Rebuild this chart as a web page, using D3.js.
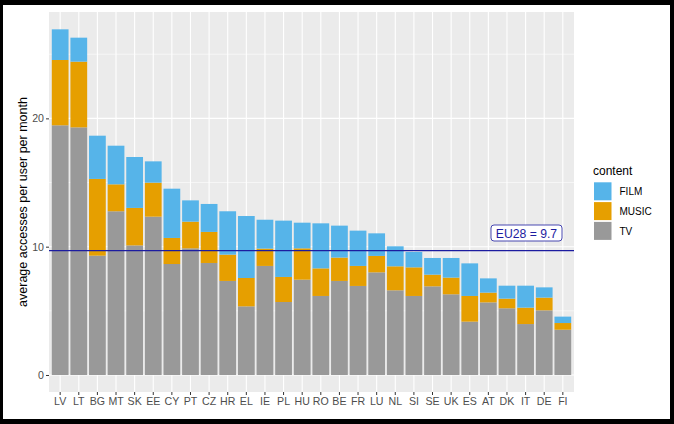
<!DOCTYPE html>
<html lang='en'>
<head>
<title>Average accesses per user per month</title>
<script type='text/javascript' src='https://cdn.jsdelivr.net/npm/d3@7/dist/d3.min.js'></script>
<style>
	body { margin: 0; background: #000; }
	text { font-family: 'Liberation Sans', Arial, sans-serif; }
</style>
</head>
<body>
<svg id='svg' width='674' height='424'></svg>
<script type='text/javascript'>
var countries = ['LV','LT','BG','MT','SK','EE','CY','PT','CZ','HR','EL','IE','PL','HU','RO','BE','FR','LU','NL','SI','SE','UK','ES','AT','DK','IT','DE','FI'];
var tv    = [19.46,19.30,9.30,12.76,10.10,12.34,8.65,9.87,8.73,7.33,5.35,8.50,5.69,7.43,6.16,7.33,6.94,8.00,6.60,6.16,6.91,6.29,4.16,5.66,5.20,3.97,5.04,3.53];
var music = [5.09,5.12,5.98,2.10,2.92,2.65,2.03,2.08,2.42,2.05,2.21,1.35,1.95,2.44,2.15,1.82,1.56,1.28,1.87,2.23,0.91,1.30,2.00,0.76,0.75,1.28,0.99,0.52];
var film  = [2.39,1.87,3.37,3.01,3.97,1.66,3.84,1.66,2.18,3.38,4.83,2.25,4.39,2.00,3.51,2.49,2.75,1.76,1.56,1.20,1.30,1.53,2.54,1.11,1.01,1.71,0.80,0.50];
var contentKeys = ['TV','MUSIC','FILM'];
var legendKeys = ['FILM','MUSIC','TV'];
var eu28 = 9.7;
var yTicks = [0, 10, 20];
var yMinor = [5, 15, 25];

{
	var colors = {FILM: '#56B4E9', MUSIC: '#E69F00', TV: '#999999'};
	var svg = d3.select('#svg');

	// white page inside the black frame
	svg.append('rect').attr('x', 3).attr('y', 5).attr('width', 667).attr('height', 414).attr('fill', '#fff');

	var rows = countries.map(function(c, i) { return {country: c, TV: tv[i], MUSIC: music[i], FILM: film[i]}; });
	var series = d3.stack().keys(contentKeys)(rows);

	var pLeft = 49, pRight = 574, pTop = 12, pBottom = 392;
	var x = d3.scaleBand().domain(countries).range([pLeft, pRight]).paddingInner(0.1).paddingOuter(0.15);
	var y = d3.scaleLinear().domain([-1.325, 28.29]).range([pBottom, pTop]);

	svg.append('rect').attr('x', pLeft).attr('y', pTop).attr('width', pRight - pLeft).attr('height', pBottom - pTop).attr('fill', '#EBEBEB');

	svg.selectAll('.minor').data(yMinor).enter().append('line')
		.attr('x1', pLeft).attr('x2', pRight).attr('y1', d => y(d)).attr('y2', d => y(d))
		.attr('stroke', '#fff').attr('stroke-width', 0.55);
	svg.selectAll('.major').data(yTicks).enter().append('line')
		.attr('x1', pLeft).attr('x2', pRight).attr('y1', d => y(d)).attr('y2', d => y(d))
		.attr('stroke', '#fff').attr('stroke-width', 1.1);
	svg.selectAll('.vgrid').data(countries).enter().append('line')
		.attr('x1', d => x(d) + x.bandwidth() / 2).attr('x2', d => x(d) + x.bandwidth() / 2)
		.attr('y1', pTop).attr('y2', pBottom)
		.attr('stroke', '#fff').attr('stroke-width', 1.1);

	var groups = svg.selectAll('.layer').data(series).enter().append('g')
		.attr('fill', d => colors[d.key]);
	groups.selectAll('rect').data(d => d).enter().append('rect')
		.attr('x', d => x(d.data.country)).attr('width', x.bandwidth())
		.attr('y', d => y(d[1])).attr('height', d => y(d[0]) - y(d[1]));

	// EU28 reference line and label
	svg.append('line').attr('x1', pLeft).attr('x2', pRight).attr('y1', y(eu28)).attr('y2', y(eu28))
		.attr('stroke', '#1c1ca0').attr('stroke-width', 1.2);
	svg.append('rect').attr('x', 491).attr('y', 225).attr('width', 71).attr('height', 16)
		.attr('rx', 3).attr('fill', '#fff').attr('stroke', '#1c1ca0').attr('stroke-width', 0.8);
	svg.append('text').attr('x', 526.5).attr('y', 237.5).attr('text-anchor', 'middle')
		.attr('font-size', 12.2).attr('fill', '#1c1ca0').text('EU28 = ' + eu28);

	// axes
	var yAxis = svg.append('g').attr('transform', 'translate(' + pLeft + ',0)')
		.call(d3.axisLeft(y).tickValues(yTicks).tickSize(3).tickPadding(2));
	var xAxis = svg.append('g').attr('transform', 'translate(0,' + pBottom + ')')
		.call(d3.axisBottom(x).tickSize(3).tickPadding(2));
	[yAxis, xAxis].forEach(function(a) {
		a.select('.domain').remove();
		a.selectAll('line').attr('stroke', '#333').attr('stroke-width', 1);
		a.selectAll('text').attr('fill', '#4D4D4D').attr('font-size', 10.6).attr('font-family', "'Liberation Sans', Arial, sans-serif");
	});

	svg.append('text').attr('transform', 'translate(27,202) rotate(-90)').attr('text-anchor', 'middle')
		.attr('font-size', 12.5).attr('fill', '#000').text('average accesses per user per month');

	// legend
	svg.append('text').attr('x', 593).attr('y', 175).attr('font-size', 12).attr('fill', '#000').text('content');
	var lg = svg.selectAll('.leg').data(legendKeys).enter().append('g')
		.attr('transform', (d, i) => 'translate(594,' + (182.3 + i * 19.8) + ')');
	lg.append('rect').attr('width', 17.5).attr('height', 18).attr('fill', d => colors[d]);
	lg.append('text').attr('x', 25.5).attr('y', 13).attr('font-size', 10).attr('fill', '#000').text(d => d);
}
</script>
</body>
</html>
